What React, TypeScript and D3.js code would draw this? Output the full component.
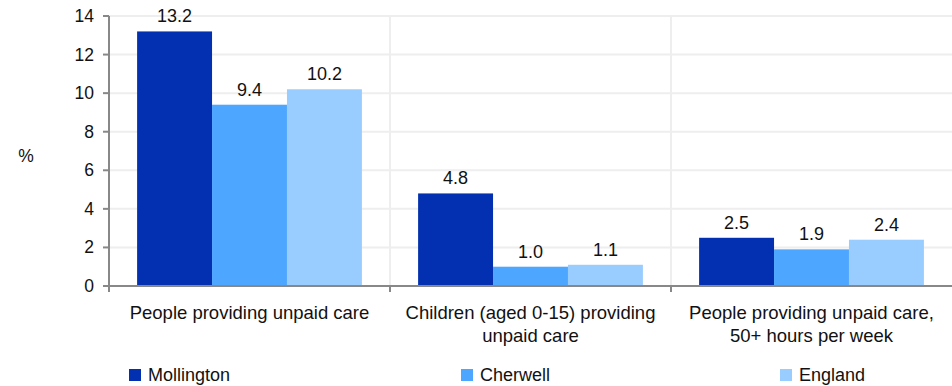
import React from "react";
import * as d3 from "d3";

const categories: string[][] = [
  ["People providing unpaid care"],
  ["Children (aged 0-15) providing", "unpaid care"],
  ["People providing unpaid care,", "50+ hours per week"],
];
const seriesNames = ["Mollington", "Cherwell", "England"];
const mollington = [13.2, 4.8, 2.5];
const cherwell = [9.4, 1.0, 1.9];
const england = [10.2, 1.1, 2.4];
const yTicks = [0, 2, 4, 6, 8, 10, 12, 14];
const colors = ["#0330b0", "#4da6ff", "#99ccff"];

const W = 952;
const H = 386;
const left = 109;
const right = 952;
const top = 16;
const bottom = 286;
const font = "'Liberation Sans', Arial, sans-serif";

export default function App() {
  const series = [mollington, cherwell, england];
  const x0 = d3.scaleBand<number>().domain([0, 1, 2]).range([left, right]).padding(0);
  const bw = x0.bandwidth();
  const x1 = d3
    .scaleBand<number>()
    .domain([0, 1, 2])
    .range([bw * 0.1, bw * 0.9])
    .padding(0);
  const y = d3.scaleLinear().domain([0, 14]).range([bottom, top]);
  const legendX = [129, 461, 780];

  return (
    <svg width={W} height={H} style={{ position: "absolute", left: 0, top: 0 }} fontFamily={font}>
      <rect width={W} height={H} fill="#fff" />
      {yTicks.map((t) => (
        <line key={"g" + t} x1={left} x2={right} y1={y(t)} y2={y(t)} stroke="#eeeeee" strokeWidth={2} />
      ))}
      {[1, 2].map((i) => (
        <line key={"v" + i} x1={x0(i)!} x2={x0(i)!} y1={top} y2={bottom} stroke="#eeeeee" strokeWidth={2} />
      ))}
      {series.map((vals, s) =>
        vals.map((v, c) => (
          <rect
            key={`b${s}-${c}`}
            x={x0(c)! + x1(s)!}
            y={y(v)}
            width={x1.bandwidth()}
            height={y(0) - y(v)}
            fill={colors[s]}
          />
        ))
      )}
      {series.map((vals, s) =>
        vals.map((v, c) => (
          <text
            key={`l${s}-${c}`}
            x={x0(c)! + x1(s)! + x1.bandwidth() / 2}
            y={y(v) - 9}
            textAnchor="middle"
            fontSize={18}
            fill="#111"
          >
            {v.toFixed(1)}
          </text>
        ))
      )}
      {/* axes */}
      <line x1={left} x2={left} y1={top} y2={bottom + 6} stroke="#888" strokeWidth={2} />
      <line x1={left - 6} x2={right} y1={bottom} y2={bottom} stroke="#888" strokeWidth={2} />
      {yTicks.map((t) => (
        <g key={"t" + t}>
          <line x1={left - 6} x2={left} y1={y(t)} y2={y(t)} stroke="#888" strokeWidth={2} />
          <text x={94} y={y(t) + 6} textAnchor="end" fontSize={17.5} fill="#111">
            {t}
          </text>
        </g>
      ))}
      {[1, 2].map((i) => (
        <line key={"xt" + i} x1={x0(i)!} x2={x0(i)!} y1={bottom} y2={bottom + 6} stroke="#888" strokeWidth={2} />
      ))}
      <text x={26} y={162} textAnchor="middle" fontSize={17.5} fill="#111">%</text>
      {categories.map((lines, c) => (
        <text key={"c" + c} textAnchor="middle" fontSize={18.5} fill="#111">
          {lines.map((ln, k) => (
            <tspan key={k} x={x0(c)! + bw / 2} y={319 + k * 23}>
              {ln}
            </tspan>
          ))}
        </text>
      ))}
      {seriesNames.map((n, s) => (
        <g key={"lg" + s}>
          <rect x={legendX[s]} y={369} width={12} height={12} fill={colors[s]} />
          <text x={legendX[s] + 19} y={381} fontSize={18} fill="#111">
            {n}
          </text>
        </g>
      ))}
    </svg>
  );
}
